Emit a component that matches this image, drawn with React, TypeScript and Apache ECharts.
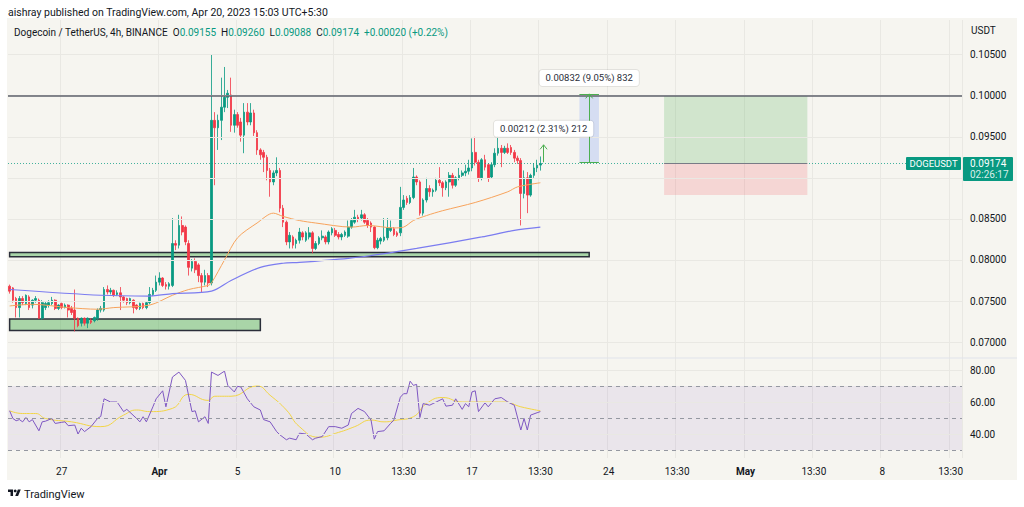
import { useEffect, useRef } from "react";
import * as echarts from "echarts";

// DOGE/USDT 4h snapshot with RSI pane

const UP = "#089981";
const DOWN = "#f23645";
const GRID_COLOR = "#e9e8e3";
const TEXT = "#131722";
const FONT = "Roboto, 'Liberation Sans', sans-serif";

const AUTHOR_LINE = "aishray published on TradingView.com, Apr 20, 2023 15:03 UTC+5:30";
const SYMBOL_LINE = "Dogecoin / TetherUS, 4h, BINANCE";
const CURRENCY = "USDT";
const TICKER = "DOGEUSDT";
const COUNTDOWN = "02:26:17";

// 4h candles, Mar 24 09:30 .. Apr 20 13:30 (UTC+5:30): [open, close, low, high]
const CANDLES: number[][] = [
  [0.0768, 0.0762, 0.0759, 0.077], [0.0766, 0.0751, 0.0748, 0.0767], [0.0753, 0.0742, 0.073, 0.0755],
  [0.0742, 0.0753, 0.073, 0.0756], [0.0753, 0.0748, 0.0745, 0.0756], [0.0747, 0.0757, 0.0745, 0.0758],
  [0.0755, 0.0742, 0.0739, 0.0757], [0.0745, 0.0751, 0.0741, 0.0752], [0.0751, 0.0753, 0.0748, 0.0756],
  [0.0751, 0.0729, 0.0728, 0.0753], [0.0729, 0.0748, 0.0727, 0.0751], [0.0742, 0.0747, 0.0739, 0.0749],
  [0.0745, 0.0748, 0.0742, 0.0751], [0.0747, 0.0751, 0.0745, 0.0755], [0.0751, 0.0741, 0.0739, 0.0752],
  [0.0741, 0.0745, 0.0739, 0.0746], [0.0747, 0.0742, 0.074, 0.0748], [0.0742, 0.0745, 0.0741, 0.0747],
  [0.0745, 0.0739, 0.073, 0.0746], [0.0741, 0.0736, 0.0733, 0.0744], [0.0739, 0.0729, 0.0713, 0.0764],
  [0.0729, 0.072, 0.0718, 0.073], [0.0723, 0.0729, 0.0719, 0.073], [0.0729, 0.0723, 0.072, 0.073],
  [0.0723, 0.0729, 0.0717, 0.073], [0.0726, 0.0724, 0.0722, 0.0729], [0.0726, 0.073, 0.0724, 0.0731],
  [0.0729, 0.0739, 0.0726, 0.0741], [0.0739, 0.0741, 0.0736, 0.0744], [0.0739, 0.0764, 0.0737, 0.0767],
  [0.0764, 0.0761, 0.0758, 0.0769], [0.0761, 0.0763, 0.0758, 0.0766], [0.0763, 0.0757, 0.0755, 0.0764],
  [0.0758, 0.076, 0.0756, 0.0763], [0.076, 0.0755, 0.0739, 0.0767], [0.0755, 0.0751, 0.0748, 0.0756],
  [0.0753, 0.0748, 0.0745, 0.0754], [0.0748, 0.0753, 0.0746, 0.0754], [0.0751, 0.0742, 0.0735, 0.0752],
  [0.0745, 0.0741, 0.0739, 0.0746], [0.0741, 0.0747, 0.0739, 0.0748], [0.0747, 0.0742, 0.074, 0.0748],
  [0.0742, 0.0748, 0.074, 0.0749], [0.0748, 0.0758, 0.0746, 0.0767], [0.0758, 0.0763, 0.0756, 0.0766],
  [0.0763, 0.0773, 0.0761, 0.0781], [0.0773, 0.0778, 0.0769, 0.0785], [0.0778, 0.0769, 0.0767, 0.0779],
  [0.077, 0.0768, 0.0764, 0.0773], [0.0768, 0.0771, 0.0764, 0.0773], [0.0769, 0.082, 0.0767, 0.0851],
  [0.082, 0.0818, 0.0812, 0.0824], [0.0818, 0.0842, 0.0814, 0.0855], [0.0842, 0.0834, 0.083, 0.0853],
  [0.084, 0.0822, 0.0818, 0.0842], [0.082, 0.0791, 0.0781, 0.0824], [0.079, 0.0798, 0.0786, 0.0801],
  [0.0798, 0.0788, 0.0784, 0.0802], [0.0794, 0.0781, 0.0773, 0.0796], [0.0781, 0.0773, 0.0761, 0.0784],
  [0.0773, 0.0781, 0.0769, 0.0788], [0.0781, 0.0772, 0.0767, 0.0784], [0.0772, 0.097, 0.0769, 0.105],
  [0.097, 0.0961, 0.0891, 0.098], [0.0961, 0.097, 0.0934, 0.0977], [0.097, 0.0986, 0.0946, 0.1022],
  [0.0986, 0.0998, 0.098, 0.1035], [0.0998, 0.1003, 0.0985, 0.1007], [0.1001, 0.0964, 0.0956, 0.1022],
  [0.0964, 0.0977, 0.0955, 0.0983], [0.0977, 0.0964, 0.0961, 0.098], [0.0968, 0.0952, 0.0944, 0.0973],
  [0.0952, 0.098, 0.093, 0.0991], [0.098, 0.0968, 0.0964, 0.0991], [0.0968, 0.0979, 0.0964, 0.0991],
  [0.0979, 0.0955, 0.0951, 0.0983], [0.0955, 0.0934, 0.0928, 0.0958], [0.0934, 0.0928, 0.0922, 0.0936],
  [0.0931, 0.0925, 0.0907, 0.0934], [0.0925, 0.0909, 0.0897, 0.0928], [0.0909, 0.0895, 0.0877, 0.0912],
  [0.0895, 0.0906, 0.0891, 0.0909], [0.0906, 0.0909, 0.0902, 0.0925], [0.0909, 0.0863, 0.0858, 0.0912],
  [0.0863, 0.0846, 0.084, 0.0867], [0.0846, 0.0822, 0.0818, 0.0848], [0.0822, 0.083, 0.0814, 0.0834],
  [0.0828, 0.0818, 0.0814, 0.083], [0.082, 0.0824, 0.0814, 0.0826], [0.0824, 0.0834, 0.082, 0.0839],
  [0.0833, 0.0828, 0.0824, 0.0835], [0.0824, 0.0833, 0.0822, 0.0835], [0.0828, 0.0833, 0.0825, 0.084],
  [0.0833, 0.0814, 0.0808, 0.0835], [0.0814, 0.082, 0.0812, 0.0823], [0.082, 0.0827, 0.0818, 0.0829],
  [0.0827, 0.0829, 0.0824, 0.0836], [0.0828, 0.0822, 0.0819, 0.083], [0.0822, 0.0834, 0.0819, 0.0836],
  [0.0833, 0.0838, 0.083, 0.084], [0.0836, 0.083, 0.0828, 0.0839], [0.0831, 0.0828, 0.0825, 0.0834],
  [0.0828, 0.0831, 0.0824, 0.0833], [0.083, 0.0834, 0.0828, 0.0836], [0.0829, 0.084, 0.0827, 0.0848],
  [0.084, 0.0848, 0.0838, 0.0851], [0.0846, 0.0852, 0.0844, 0.0861], [0.0852, 0.085, 0.0846, 0.0855],
  [0.0851, 0.0855, 0.0848, 0.0861], [0.0855, 0.0846, 0.0844, 0.0857], [0.0848, 0.0842, 0.0839, 0.0851],
  [0.0845, 0.084, 0.0834, 0.0847], [0.084, 0.0815, 0.0813, 0.0841], [0.0815, 0.0824, 0.0813, 0.0827],
  [0.0823, 0.0826, 0.0819, 0.0828], [0.0824, 0.0828, 0.0822, 0.0851], [0.0827, 0.0839, 0.0824, 0.0851],
  [0.0836, 0.0839, 0.0834, 0.0848], [0.0838, 0.0831, 0.0829, 0.084], [0.0833, 0.083, 0.0828, 0.0835],
  [0.0833, 0.0864, 0.0829, 0.0889], [0.0864, 0.0873, 0.0861, 0.0879], [0.0875, 0.087, 0.0867, 0.0878],
  [0.087, 0.0876, 0.0868, 0.0879], [0.0876, 0.0901, 0.0874, 0.0912], [0.0901, 0.0895, 0.0891, 0.0903],
  [0.0895, 0.0857, 0.0854, 0.0897], [0.0857, 0.0873, 0.0854, 0.0875], [0.0873, 0.0887, 0.087, 0.09],
  [0.0887, 0.0883, 0.0877, 0.0891], [0.0883, 0.0885, 0.0877, 0.0887], [0.0885, 0.0897, 0.0883, 0.09],
  [0.0897, 0.0894, 0.089, 0.0913], [0.0894, 0.0888, 0.0877, 0.0896], [0.0888, 0.0895, 0.0885, 0.0897],
  [0.0895, 0.0903, 0.0877, 0.0907], [0.0903, 0.0891, 0.0887, 0.0906], [0.0891, 0.09, 0.0889, 0.0902],
  [0.09, 0.0903, 0.0897, 0.0912], [0.0903, 0.0906, 0.0901, 0.0909], [0.0906, 0.0908, 0.0902, 0.0916],
  [0.0908, 0.0912, 0.0904, 0.0922], [0.0912, 0.0931, 0.0908, 0.0948], [0.0931, 0.0919, 0.0915, 0.095],
  [0.0919, 0.09, 0.0895, 0.0922], [0.09, 0.0922, 0.0897, 0.0924], [0.0922, 0.0913, 0.0909, 0.0928],
  [0.0916, 0.09, 0.0895, 0.0918], [0.0901, 0.0916, 0.0899, 0.0919], [0.0916, 0.093, 0.0913, 0.0936],
  [0.093, 0.0936, 0.0927, 0.095], [0.0936, 0.0931, 0.0913, 0.094], [0.0931, 0.0936, 0.0929, 0.0939],
  [0.0936, 0.0931, 0.0929, 0.0942], [0.0937, 0.0931, 0.0928, 0.094], [0.0931, 0.0924, 0.0919, 0.0934],
  [0.0924, 0.0921, 0.0917, 0.0927], [0.0921, 0.0881, 0.0842, 0.0924], [0.0881, 0.09, 0.0875, 0.0909],
  [0.09, 0.0879, 0.0857, 0.0907], [0.0879, 0.0903, 0.0877, 0.0905], [0.0903, 0.0912, 0.09, 0.0918],
  [0.0912, 0.09154, 0.0907, 0.0922], [0.09155, 0.09174, 0.09088, 0.0926],
];

// moving averages as [slot, value] knots
const EMA_FAST = [
  [0, 0.0744], [7, 0.0746], [18, 0.0742], [27, 0.074], [32, 0.0742], [43, 0.0745], [50, 0.0757],
  [55, 0.0764], [61, 0.0769], [62, 0.0772], [66, 0.08], [70, 0.0827], [76, 0.0845], [81, 0.0857],
  [84, 0.0853], [89, 0.0848], [94, 0.0845], [105, 0.084], [110, 0.0842], [118, 0.0839], [121, 0.084],
  [124, 0.0848], [128, 0.0854], [133, 0.086], [143, 0.087], [153, 0.0883], [156, 0.0889], [163, 0.0894],
];
const EMA_SLOW = [
  [0, 0.0764], [28, 0.0757], [43, 0.0756], [50, 0.0759], [62, 0.0762], [68, 0.0775], [77, 0.0791],
  [84, 0.0796], [89, 0.0797], [104, 0.0802], [114, 0.0807], [125, 0.0814], [145, 0.0828], [155, 0.0836],
  [163, 0.084],
];

const RSI = [
  [0, 54.5], [1, 49.7], [2, 48.3], [3, 49], [4, 47.6], [5, 50.3], [6, 47.6], [7, 49], [9, 42], [10, 47.6],
  [11, 48], [13, 49.7], [14, 46.6], [16, 47.3], [17, 47.6], [18, 45.2], [20, 45.6], [21, 40], [22, 43.6],
  [23, 41.5], [25, 44.6], [27, 49.7], [28, 51], [29, 62], [31, 60], [33, 60], [35, 54], [36, 55.4],
  [39, 49.7], [40, 47.6], [41, 50.8], [42, 47.6], [44, 57], [45, 62], [47, 67], [48, 57], [50, 75.6],
  [52, 78.7], [54, 73.5], [56, 54], [57, 54.5], [58, 47.6], [60, 50.8], [61, 46.6], [62, 78.7], [64, 76.6],
  [66, 79.3], [67, 70.4], [69, 66.3], [70, 69.8], [71, 69.4], [73, 62], [75, 57], [77, 55], [78, 49],
  [80, 47.6], [82, 41.5], [83, 39.5], [85, 36.4], [86, 37.4], [88, 36.4], [89, 40.5], [91, 40], [93, 36.4],
  [94, 37.4], [96, 38.4], [98, 44.6], [100, 44.6], [102, 43.6], [104, 45.6], [105, 52.8], [107, 56],
  [109, 54], [111, 48.7], [112, 36.8], [113, 41.5], [115, 42], [117, 46.6], [118, 48.7], [120, 63],
  [121, 65.2], [122, 65.2], [123, 73], [124, 70.4], [125, 71], [126, 50.3], [127, 59], [129, 58], [131, 60],
  [133, 62], [134, 57.4], [136, 58], [137, 62], [139, 55.4], [140, 59], [141, 57], [142, 66.3], [143, 67],
  [144, 54], [146, 59.5], [147, 57], [149, 62], [151, 62.8], [153, 60], [155, 58], [157, 42.5], [158, 49.7],
  [159, 42.5], [160, 51.8], [162, 53.3], [163, 54],
];
const RSI_MA = [
  [0, 54.5], [4, 52.8], [8, 52.8], [11, 49.7], [19, 47.6], [28, 44.6], [35, 51.8], [39, 55], [43, 54],
  [50, 56], [55, 64.8], [61, 61], [63, 63.6], [68, 63.6], [76, 70], [80, 64.2], [85, 55], [89, 44.6],
  [95, 38], [101, 41], [106, 44.6], [111, 48.7], [115, 47.6], [119, 48.7], [124, 50.8], [128, 59],
  [133, 62.8], [139, 60], [146, 60], [152, 60], [157, 57], [163, 54.5],
];

// time axis: 4h slots, labels at given slots
const SLOT_COUNT = 293;
const X_TICKS: [number, string][] = [
  [16, "27"], [46, "Apr"], [70, "5"], [100, "10"], [121, "13:30"], [142, "17"], [163, "13:30"],
  [184, "24"], [205, "13:30"], [226, "May"], [247, "13:30"], [268, "8"], [289, "13:30"],
];
const MONTH_TICKS = ["Apr", "May"];

const PRICE_LINES = [0.07, 0.075, 0.08, 0.085, 0.09, 0.095, 0.1, 0.105];
const RSI_LINES = [40, 60, 80];
const RSI_DASHED = [30, 50, 70];

// drawings
const RESISTANCE = 0.1;
const ZONE_UPPER = [0.0804, 0.0809];
const ZONE_UPPER_END = 178;
const ZONE_LOWER = [0.0714, 0.0728];
const ZONE_LOWER_END = 77;
const LONG_X = [201, 245];
const LONG_TARGET = 0.1;
const LONG_STOP = 0.0879;
const MEASURE_X = [175, 178, 181];
const MEASURE_RANGE = [0.0919, 0.10022];
const MEASURE_LABEL = "0.00832 (9.05%) 832";
const MEASURE2_X = 164;
const MEASURE2_RANGE = [0.0919, 0.09402];
const MEASURE2_LABEL = "0.00212 (2.31%) 212";

// layout
const PLOT_LEFT = 8;
const PLOT_W = 954;
const PRICE_TOP = 20;
const PRICE_H = 338.5;
const RSI_TOP = 358;
const RSI_H = 100;
const P_MIN = 0.068;
const P_MAX = 0.10922;

export default function App() {
  const chartRef = useRef<HTMLDivElement>(null);

  useEffect(() => {
    if (!chartRef.current) return;
    document.body.style.margin = "0";
    const chart = echarts.init(chartRef.current, null, { renderer: "svg" });

    const slots = Array.from({ length: SLOT_COUNT }, (_, i) => String(i));
    const tickMap = new Map(X_TICKS);
    const isTick = (i: number) => tickMap.has(i);
    const last = CANDLES[CANDLES.length - 1];
    const prevClose = CANDLES[CANDLES.length - 2][1];
    const lastPrice = last[1];
    const change = lastPrice - prevClose;

    const zoneStyle = { color: "rgba(76,175,80,0.45)", borderColor: "#2a2e39", borderWidth: 1.5 };
    const measureLine = { color: "#4caf50", width: 1, type: "solid" };

    const option: any = {
      animation: false,
      backgroundColor: "transparent",
      textStyle: { fontFamily: FONT },
      grid: [
        { left: PLOT_LEFT, top: PRICE_TOP, width: PLOT_W, height: PRICE_H },
        { left: PLOT_LEFT, top: RSI_TOP, width: PLOT_W, height: RSI_H },
      ],
      xAxis: [0, 1].map((g) => ({
        type: "category",
        gridIndex: g,
        data: slots,
        boundaryGap: true,
        axisLine: { show: false },
        axisTick: { show: false },
        splitLine: { show: true, interval: (i: number) => isTick(i), lineStyle: { color: GRID_COLOR, width: 1 } },
        axisLabel: {
          show: g === 1,
          interval: (i: number) => isTick(i),
          formatter: (_v: string, i: number) => {
            const t = tickMap.get(i) || "";
            return MONTH_TICKS.includes(t) ? `{b|${t}}` : t;
          },
          color: TEXT,
          fontSize: 10,
          margin: 8,
          rich: { b: { fontWeight: "bold", fontSize: 10, color: TEXT } },
        },
      })),
      yAxis: [
        {
          type: "value",
          gridIndex: 0,
          position: "right",
          min: P_MIN,
          max: P_MAX,
          interval: 0.001,
          splitLine: { show: false },
          axisLine: { show: false },
          axisTick: { show: false },
          axisLabel: {
            color: TEXT,
            fontSize: 10,
            margin: 8,
            formatter: (v: number) => {
              const m = v * 200;
              return Math.abs(m - Math.round(m)) < 1e-6 ? v.toFixed(5) : "";
            },
          },
        },
        {
          type: "value",
          gridIndex: 1,
          position: "right",
          min: 25,
          max: 87.5,
          interval: 5,
          splitLine: { show: false },
          axisLine: { show: false },
          axisTick: { show: false },
          axisLabel: {
            color: TEXT,
            fontSize: 10,
            margin: 8,
            formatter: (v: number) => (RSI_LINES.includes(v) ? v.toFixed(2) : ""),
          },
        },
      ],
      series: [
        {
          type: "line",
          xAxisIndex: 0,
          yAxisIndex: 0,
          data: [],
          z: 1,
          silent: true,
          markLine: {
            silent: true,
            symbol: "none",
            precision: 5,
            label: { show: false },
            lineStyle: { color: GRID_COLOR, width: 1, type: "solid" },
            data: PRICE_LINES.map((v) => ({ yAxis: v })),
          },
        },
        {
          type: "candlestick",
          xAxisIndex: 0,
          yAxisIndex: 0,
          data: CANDLES,
          barWidth: "66%",
          z: 3,
          itemStyle: { color: UP, color0: DOWN, borderColor: UP, borderColor0: DOWN, borderWidth: 0.8 },
        },
        {
          type: "line",
          xAxisIndex: 0,
          yAxisIndex: 0,
          data: EMA_FAST,
          smooth: 0.3,
          showSymbol: false,
          z: 4,
          lineStyle: { color: "#f7a35c", width: 1 },
        },
        {
          type: "line",
          xAxisIndex: 0,
          yAxisIndex: 0,
          data: EMA_SLOW,
          smooth: 0.3,
          showSymbol: false,
          z: 4,
          lineStyle: { color: "#7b7cf0", width: 1.2 },
        },
        {
          type: "line",
          xAxisIndex: 0,
          yAxisIndex: 0,
          data: [],
          z: 5,
          silent: true,
          markArea: {
            silent: true,
            label: { show: false },
            data: [
              [{ coord: [0, ZONE_UPPER[1]], itemStyle: zoneStyle }, { coord: [ZONE_UPPER_END, ZONE_UPPER[0]] }],
              [{ coord: [0, ZONE_LOWER[1]], itemStyle: zoneStyle }, { coord: [ZONE_LOWER_END, ZONE_LOWER[0]] }],
              [{ coord: [LONG_X[0], LONG_TARGET], itemStyle: { color: "rgba(76,175,80,0.22)" } }, { coord: [LONG_X[1], lastPrice] }],
              [{ coord: [LONG_X[0], lastPrice], itemStyle: { color: "rgba(242,54,69,0.16)" } }, { coord: [LONG_X[1], LONG_STOP] }],
              [{ coord: [MEASURE_X[0], MEASURE_RANGE[1]], itemStyle: { color: "rgba(41,98,255,0.16)" } }, { coord: [MEASURE_X[2], MEASURE_RANGE[0]] }],
            ],
          },
          markLine: {
            silent: true,
            symbol: "none",
            precision: 5,
            label: { show: false },
            data: [
              { yAxis: RESISTANCE, lineStyle: { color: "#5d606b", width: 1.5, type: "solid" } },
              { yAxis: lastPrice, lineStyle: { color: "rgba(8,153,129,0.75)", width: 1, type: [1, 2] } },
              [{ coord: [LONG_X[0], lastPrice], lineStyle: { color: "#787b86", width: 1, type: "solid" } }, { coord: [LONG_X[1], lastPrice] }],
              [{ coord: [MEASURE_X[1], MEASURE_RANGE[0]], lineStyle: measureLine }, { coord: [MEASURE_X[1], MEASURE_RANGE[1]] }],
              [{ coord: [MEASURE_X[0], MEASURE_RANGE[0]], lineStyle: measureLine }, { coord: [MEASURE_X[2], MEASURE_RANGE[0]] }],
              [{ coord: [MEASURE_X[0], MEASURE_RANGE[1]], lineStyle: measureLine }, { coord: [MEASURE_X[2], MEASURE_RANGE[1]] }],
              [{ coord: [MEASURE2_X, MEASURE2_RANGE[0]], lineStyle: measureLine }, { coord: [MEASURE2_X, MEASURE2_RANGE[1]] }],
            ],
          },
        },
        {
          type: "line",
          xAxisIndex: 1,
          yAxisIndex: 1,
          data: [],
          z: 1,
          silent: true,
          markArea: {
            silent: true,
            label: { show: false },
            itemStyle: { color: "rgba(126,87,194,0.1)" },
            data: [[{ yAxis: RSI_DASHED[0] }, { yAxis: RSI_DASHED[2] }]],
          },
          markLine: {
            silent: true,
            symbol: "none",
            label: { show: false },
            data: [
              ...RSI_LINES.map((v) => ({ yAxis: v, lineStyle: { color: GRID_COLOR, width: 1, type: "solid" } })),
              ...RSI_DASHED.map((v) => ({ yAxis: v, lineStyle: { color: "#9598a1", width: 1, type: [4, 4] } })),
            ],
          },
        },
        {
          type: "line",
          xAxisIndex: 1,
          yAxisIndex: 1,
          data: RSI,
          showSymbol: false,
          z: 4,
          lineStyle: { color: "#7e57c2", width: 1 },
        },
        {
          type: "line",
          xAxisIndex: 1,
          yAxisIndex: 1,
          data: RSI_MA,
          smooth: 0.5,
          showSymbol: false,
          z: 3,
          lineStyle: { color: "#f2d545", width: 1 },
        },
      ],
    };

    chart.setOption(option);

    // overlays placed from data values
    const px = (i: number, v: number) => chart.convertToPixel({ gridIndex: 0 } as any, [i, v]) as number[];
    const right = PLOT_LEFT + PLOT_W;
    const yLast = px(0, lastPrice)[1];
    const m1 = px(MEASURE_X[1], MEASURE_RANGE[1]);
    const m2 = px(MEASURE2_X, MEASURE2_RANGE[1]);
    const chevron = (p: number[]) => ({
      type: "polyline",
      z: 60,
      shape: { points: [[p[0] - 3.5, p[1] + 4.5], [p[0], p[1]], [p[0] + 3.5, p[1] + 4.5]] },
      style: { stroke: "#4caf50", lineWidth: 1, fill: null },
    });
    const labelBox = (p: number[], text: string) => ({
      type: "text",
      z: 60,
      x: p[0],
      y: p[1] - 16,
      style: {
        text,
        fill: "#2a2e39",
        fontSize: 9.5,
        fontFamily: FONT,
        align: "center",
        verticalAlign: "middle",
        backgroundColor: "#ffffff",
        borderColor: "rgba(0,0,0,0.08)",
        borderWidth: 1,
        borderRadius: 3,
        padding: [3, 6],
      },
    });
    const fmt = (v: number) => v.toFixed(5);
    const sign = change >= 0 ? "+" : "-";
    const pct = ((Math.abs(change) / prevClose) * 100).toFixed(2);

    chart.setOption({
      graphic: [
        {
          type: "text",
          x: 8,
          y: 12,
          style: { text: AUTHOR_LINE, fill: TEXT, fontSize: 10.5, fontFamily: FONT, verticalAlign: "middle" },
        },
        {
          type: "text",
          x: 14,
          y: 32,
          z: 60,
          style: {
            text:
              `{d|${SYMBOL_LINE}}  {d|O}{g|${fmt(last[0])}}  {d|H}{g|${fmt(last[3])}}  ` +
              `{d|L}{g|${fmt(last[2])}}  {d|C}{g|${fmt(last[1])}}  {g|${sign}${fmt(Math.abs(change))} (${sign}${pct}%)}`,
            fontSize: 10,
            fontFamily: FONT,
            verticalAlign: "middle",
            rich: {
              d: { fill: TEXT, fontSize: 10, fontFamily: FONT },
              g: { fill: UP, fontSize: 10, fontFamily: FONT },
            },
          },
        },
        {
          type: "text",
          x: right + 9,
          y: 30,
          style: { text: CURRENCY, fill: TEXT, fontSize: 10, fontFamily: FONT, verticalAlign: "middle" },
        },
        {
          type: "line",
          z: 40,
          shape: { x1: 7, y1: RSI_TOP, x2: 1017, y2: RSI_TOP },
          style: { stroke: "#e0e3eb", lineWidth: 1 },
        },
        {
          type: "rect",
          z: 50,
          shape: { x: right - 56, y: yLast - 6.5, width: 55, height: 13, r: 1 },
          style: { fill: UP },
        },
        {
          type: "text",
          z: 51,
          x: right - 28.5,
          y: yLast,
          style: { text: TICKER, fill: "#fff", fontSize: 9.5, fontFamily: FONT, align: "center", verticalAlign: "middle" },
        },
        {
          type: "rect",
          z: 50,
          shape: { x: right + 1, y: yLast - 6.5, width: 50, height: 24, r: 1 },
          style: { fill: UP },
        },
        {
          type: "text",
          z: 51,
          x: right + 8,
          y: yLast,
          style: { text: fmt(lastPrice), fill: "#fff", fontSize: 10, fontFamily: FONT, verticalAlign: "middle" },
        },
        {
          type: "text",
          z: 51,
          x: right + 8,
          y: yLast + 11,
          style: { text: COUNTDOWN, fill: "rgba(255,255,255,0.85)", fontSize: 10, fontFamily: FONT, verticalAlign: "middle" },
        },
        chevron(m1),
        chevron(m2),
        labelBox(m1, MEASURE_LABEL),
        labelBox(m2, MEASURE2_LABEL),
        {
          type: "group",
          x: 8,
          y: 488,
          scaleX: 0.36,
          scaleY: 0.36,
          children: [
            { type: "polygon", shape: { points: [[0, 4], [14, 4], [14, 22], [7, 22], [7, 11], [0, 11]] }, style: { fill: TEXT } },
            { type: "circle", shape: { cx: 20, cy: 8, r: 4 }, style: { fill: TEXT } },
            { type: "polygon", shape: { points: [[20, 22], [27.5, 4], [35.5, 4], [28, 22]] }, style: { fill: TEXT } },
          ],
        },
        {
          type: "text",
          x: 24,
          y: 494,
          style: { text: "TradingView", fill: TEXT, fontSize: 11, fontFamily: FONT, verticalAlign: "middle" },
        },
      ],
    });

    return () => {
      chart.dispose();
    };
  }, []);

  return (
    <div style={{ position: "relative", width: 1024, height: 507, background: "#ffffff" }}>
      <div style={{ position: "absolute", left: 7, top: 18, width: 1010, height: 462, background: "#f6f5f0" }} />
      <div ref={chartRef} style={{ position: "absolute", left: 0, top: 0, width: 1024, height: 507 }} />
    </div>
  );
}
